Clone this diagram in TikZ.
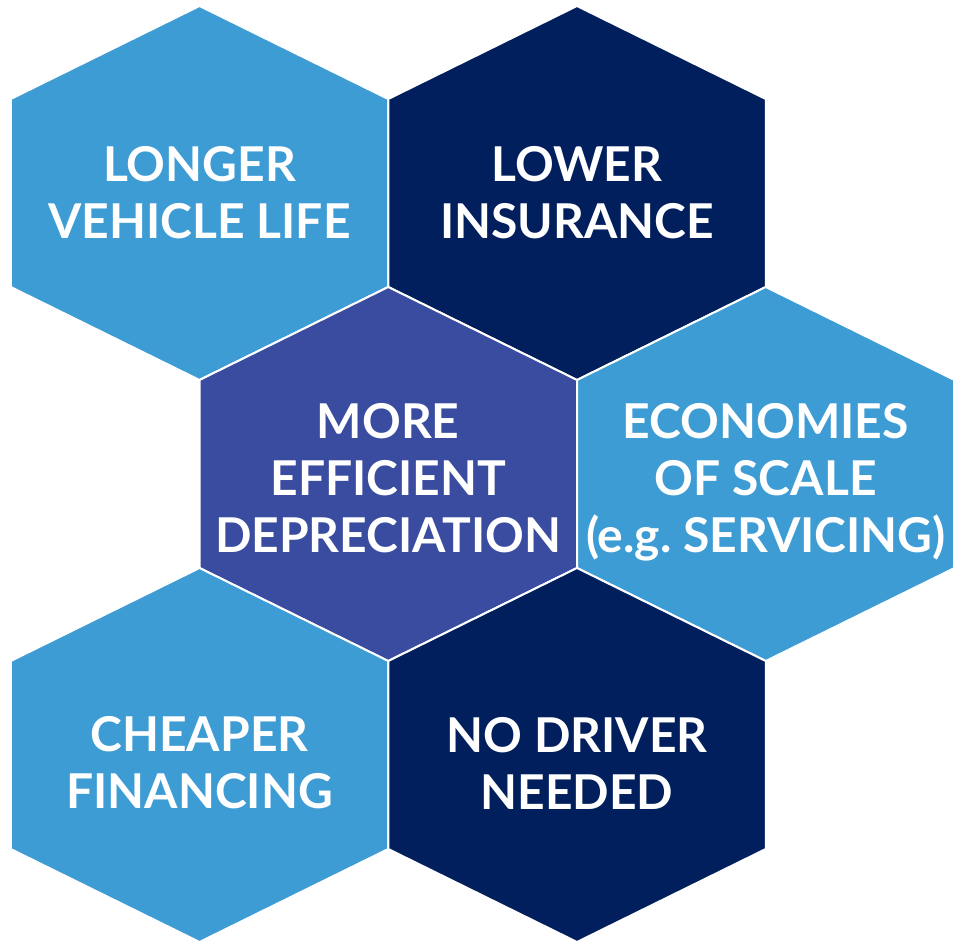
\documentclass[tikz,border=0pt]{standalone}
\usepackage{fontspec}
\setmainfont{Lato}
\definecolor{bleuC}{HTML}{3E9CD4}
\definecolor{marine}{HTML}{021F5D}
\definecolor{indigoM}{HTML}{3A4CA0}
\tikzset{
  cell/.style={fill=#1, draw=white, line width=2pt},
  tag/.style={text=white, align=center, font=\fontsize{48}{57}\selectfont\bfseries},
  pics/hexa/.style={code={
    \path[cell=#1] (0,187) -- (188.75,94) -- (188.75,-94) -- (0,-187)
      -- (-188.75,-94) -- (-188.75,94) -- cycle;}},
}

\begin{document}
\begin{tikzpicture}[x=1pt,y=1pt]
  \useasboundingbox (0,0) rectangle (953,946);
  % honeycomb, top row to bottom row
  \pic at (199.5,753) {hexa=bleuC};
  \pic at (577,753)   {hexa=marine};
  \pic at (388.25,472) {hexa=indigoM};
  \pic at (765.75,472) {hexa=bleuC};
  \pic at (199.5,191) {hexa=bleuC};
  \pic at (577,191)   {hexa=marine};
  % labels
  \node[tag] (vie) at (199.5,753) {LONGER\\VEHICLE LIFE};
  \node[tag] (assur) at (577,753) {LOWER\\INSURANCE};
  \node[tag] (amort) at (388.25,468) {MORE\\EFFICIENT\\DEPRECIATION};
  \node[tag] (echelle) at (765.75,464) {ECONOMIES\\OF SCALE\\(e.g.\ SERVICING)};
  \node[tag] (credit) at (199.5,183) {CHEAPER\\FINANCING};
  \node[tag] (chauff) at (577,183) {NO DRIVER\\NEEDED};
\end{tikzpicture}
\end{document}
